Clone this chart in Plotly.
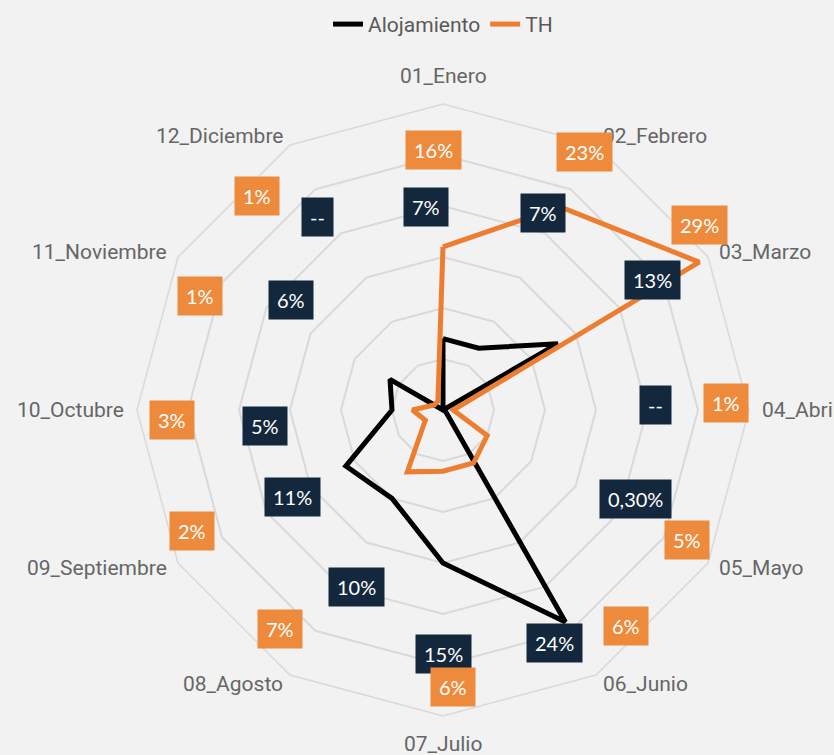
import math
import plotly.graph_objects as go

meses = ["01_Enero", "02_Febrero", "03_Marzo", "04_Abril", "05_Mayo", "06_Junio",
         "07_Julio", "08_Agosto", "09_Septiembre", "10_Octubre", "11_Noviembre", "12_Diciembre"]
alojamiento = [7, 7, 13, 0, 0.3, 24, 15, 10, 11, 5, 6, 0]
th = [16, 23, 29, 1, 5, 6, 6, 7, 2, 3, 1, 1]
etiq_aloj = ["7%", "7%", "13%", "--", "0,30%", "24%", "15%", "10%", "11%", "5%", "6%", "--"]
etiq_th = ["16%", "23%", "29%", "1%", "5%", "6%", "6%", "7%", "2%", "3%", "1%", "1%"]

# where the boxed labels sit (radius in axis units, angle in degrees clockwise from top)
pos_aloj = [(20.0, 355.2), (21.7, 26.9), (24.2, 58.2), (20.8, 88.6), (20.8, 114.8), (25.3, 154.5),
            (23.9, 179.8), (19.3, 206), (17.0, 240), (17.5, 265), (18.4, 305.7), (22.6, 327)]
pos_th = [(25.5, 357.8), (28.8, 28.7), (31.0, 54.1), (27.8, 88.6), (27.1, 118), (27.8, 139.7),
          (27.2, 178), (26.8, 216.7), (27.3, 244.2), (26.6, 267.9), (26.3, 295.1), (27.8, 319)]

RMAX = 30
NAVY = "#13283D"
ORANGE = "#ED7D31"
ORANGE_BOX = "#EE8A3C"
GRID = "#D9D9D9"

fig = go.Figure()
fig.add_trace(go.Scatterpolar(r=alojamiento + alojamiento[:1], theta=meses + meses[:1],
                              mode="lines", name="Alojamiento",
                              line=dict(color="#000000", width=5)))
fig.add_trace(go.Scatterpolar(r=th + th[:1], theta=meses + meses[:1],
                              mode="lines", name="TH",
                              line=dict(color=ORANGE, width=5)))


def to_paper(r, ang):
    a = math.radians(ang)
    return 0.5 + 0.5 * (r / RMAX) * math.sin(a), 0.5 + 0.5 * (r / RMAX) * math.cos(a)


annotations = []
# month names around the outside
for i, m in enumerate(meses):
    ang = i * 30
    if ang in (0, 180):
        x, y = to_paper(32.7, ang)
        xa = "center"
    else:
        x, y = to_paper(31.05, ang)
        xa = "left" if ang < 180 else "right"
    annotations.append(dict(x=x, y=y, xref="paper", yref="paper", text=m, showarrow=False,
                            xanchor=xa, yanchor="middle",
                            font=dict(family="Roboto", size=21, color="#666666")))

for texts, positions, bg in [(etiq_aloj, pos_aloj, NAVY), (etiq_th, pos_th, ORANGE_BOX)]:
    for t, (r, ang) in zip(texts, positions):
        x, y = to_paper(r, ang)
        annotations.append(dict(x=x, y=y, xref="paper", yref="paper", text=t, showarrow=False,
                                xanchor="center", yanchor="middle", bgcolor=bg, borderpad=8,
                                height=22,
                                font=dict(family="Lato", size=20, color="white")))

fig.update_layout(
    width=834, height=755,
    paper_bgcolor="#F2F2F2", plot_bgcolor="#F2F2F2",
    margin=dict(l=137, r=85, t=104, b=39, autoexpand=False),
    font=dict(family="Roboto", color="#595959"),
    polar=dict(
        bgcolor="#F2F2F2",
        gridshape="linear",
        radialaxis=dict(range=[0, RMAX], tickvals=[5, 10, 15, 20, 25], showticklabels=False,
                        ticks="", showline=False, gridcolor=GRID, gridwidth=1.5),
        angularaxis=dict(rotation=90, direction="clockwise", showgrid=False,
                         showline=True, linecolor=GRID, linewidth=1.5,
                         ticks="", showticklabels=False),
    ),
    legend=dict(orientation="h", x=0.5, xanchor="center", y=1.13, yanchor="middle",
                font=dict(family="Roboto", size=21, color="#595959"), bgcolor="rgba(0,0,0,0)"),
    annotations=annotations,
)

fig.write_html("out.html", config={"displayModeBar": False},
               post_script="document.body.style.margin='0';document.body.style.padding='0';"
                           "document.body.style.overflow='hidden';")
